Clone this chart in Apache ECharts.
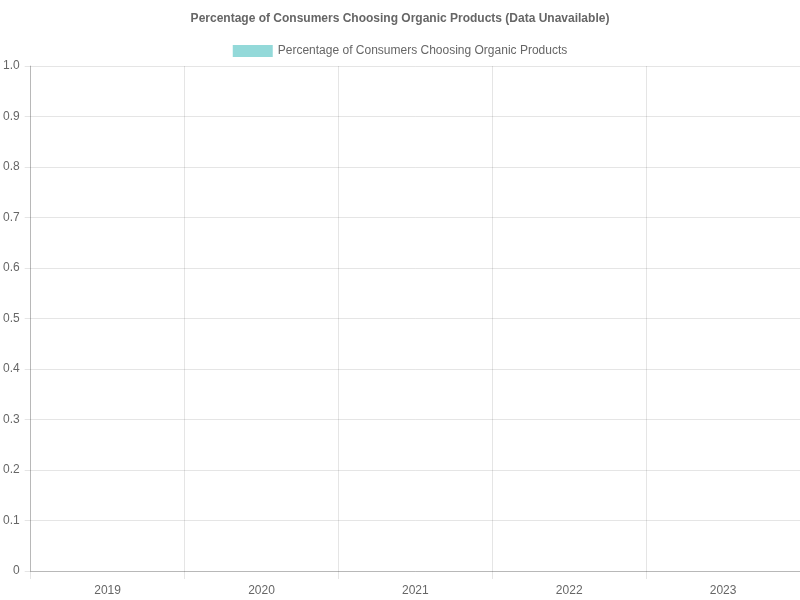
<!DOCTYPE html>
<html>
<head>
<meta charset="utf-8">
<script src="https://cdn.jsdelivr.net/npm/echarts@6/dist/echarts.min.js"></script>
<style>html,body{margin:0;padding:0;background:#fff}#c{width:800px;height:600px}</style>
</head>
<body>
<div id="c"></div>
<script>
const titleText = 'Percentage of Consumers Choosing Organic Products (Data Unavailable)';
const seriesName = 'Percentage of Consumers Choosing Organic Products';
const categories = ['2019', '2020', '2021', '2022', '2023'];
const values = [null, null, null, null, null];

const chart = echarts.init(document.getElementById('c'), null, {renderer: 'canvas'});
const font = '"Liberation Sans", Arial, Helvetica, sans-serif';
chart.setOption({
  animation: false,
  textStyle: {fontFamily: font},
  title: {
    text: titleText, left: 'center', top: 8,
    textStyle: {fontFamily: font, fontSize: 12, fontWeight: 'bold', color: '#666'}
  },
  legend: {
    top: 45, left: 'center', icon: 'rect', itemWidth: 40, itemHeight: 12, itemGap: 10,
    padding: 0,
    itemStyle: {borderWidth: 0, color: 'rgba(75,192,192,0.6)'},
    textStyle: {fontFamily: font, fontSize: 12, color: '#666'},
    data: [seriesName]
  },
  grid: {left: 30, right: 0, top: 66, bottom: 29, containLabel: false},
  xAxis: {
    type: 'category', data: categories, boundaryGap: true,
    axisLine: {show: true, lineStyle: {color: 'rgba(0,0,0,0.2)'}},
    axisTick: {show: true, length: 8, alignWithLabel: false, lineStyle: {color: 'rgba(0,0,0,0.1)'}},
    axisLabel: {color: '#666', fontSize: 12, margin: 14, fontFamily: font},
    splitLine: {show: true, lineStyle: {color: 'rgba(0,0,0,0.1)'}}
  },
  yAxis: {
    type: 'value', min: 0, max: 1, interval: 0.1,
    axisLine: {show: true, lineStyle: {color: 'rgba(0,0,0,0.2)'}},
    axisTick: {show: true, length: 6, lineStyle: {color: 'rgba(0,0,0,0.1)'}},
    axisLabel: {color: '#666', fontSize: 12, margin: 11, fontFamily: font, padding: [2, 0, 0, 0],
      formatter: v => (Math.abs(v) < 1e-9 ? '0' : v.toFixed(1))},
    splitLine: {show: true, lineStyle: {color: 'rgba(0,0,0,0.1)'}}
  },
  series: [{
    name: seriesName, type: 'bar', data: values,
    itemStyle: {color: 'rgba(75,192,192,0.6)', borderColor: 'rgba(75,192,192,1)', borderWidth: 1}
  }]
});
</script>
</body>
</html>
